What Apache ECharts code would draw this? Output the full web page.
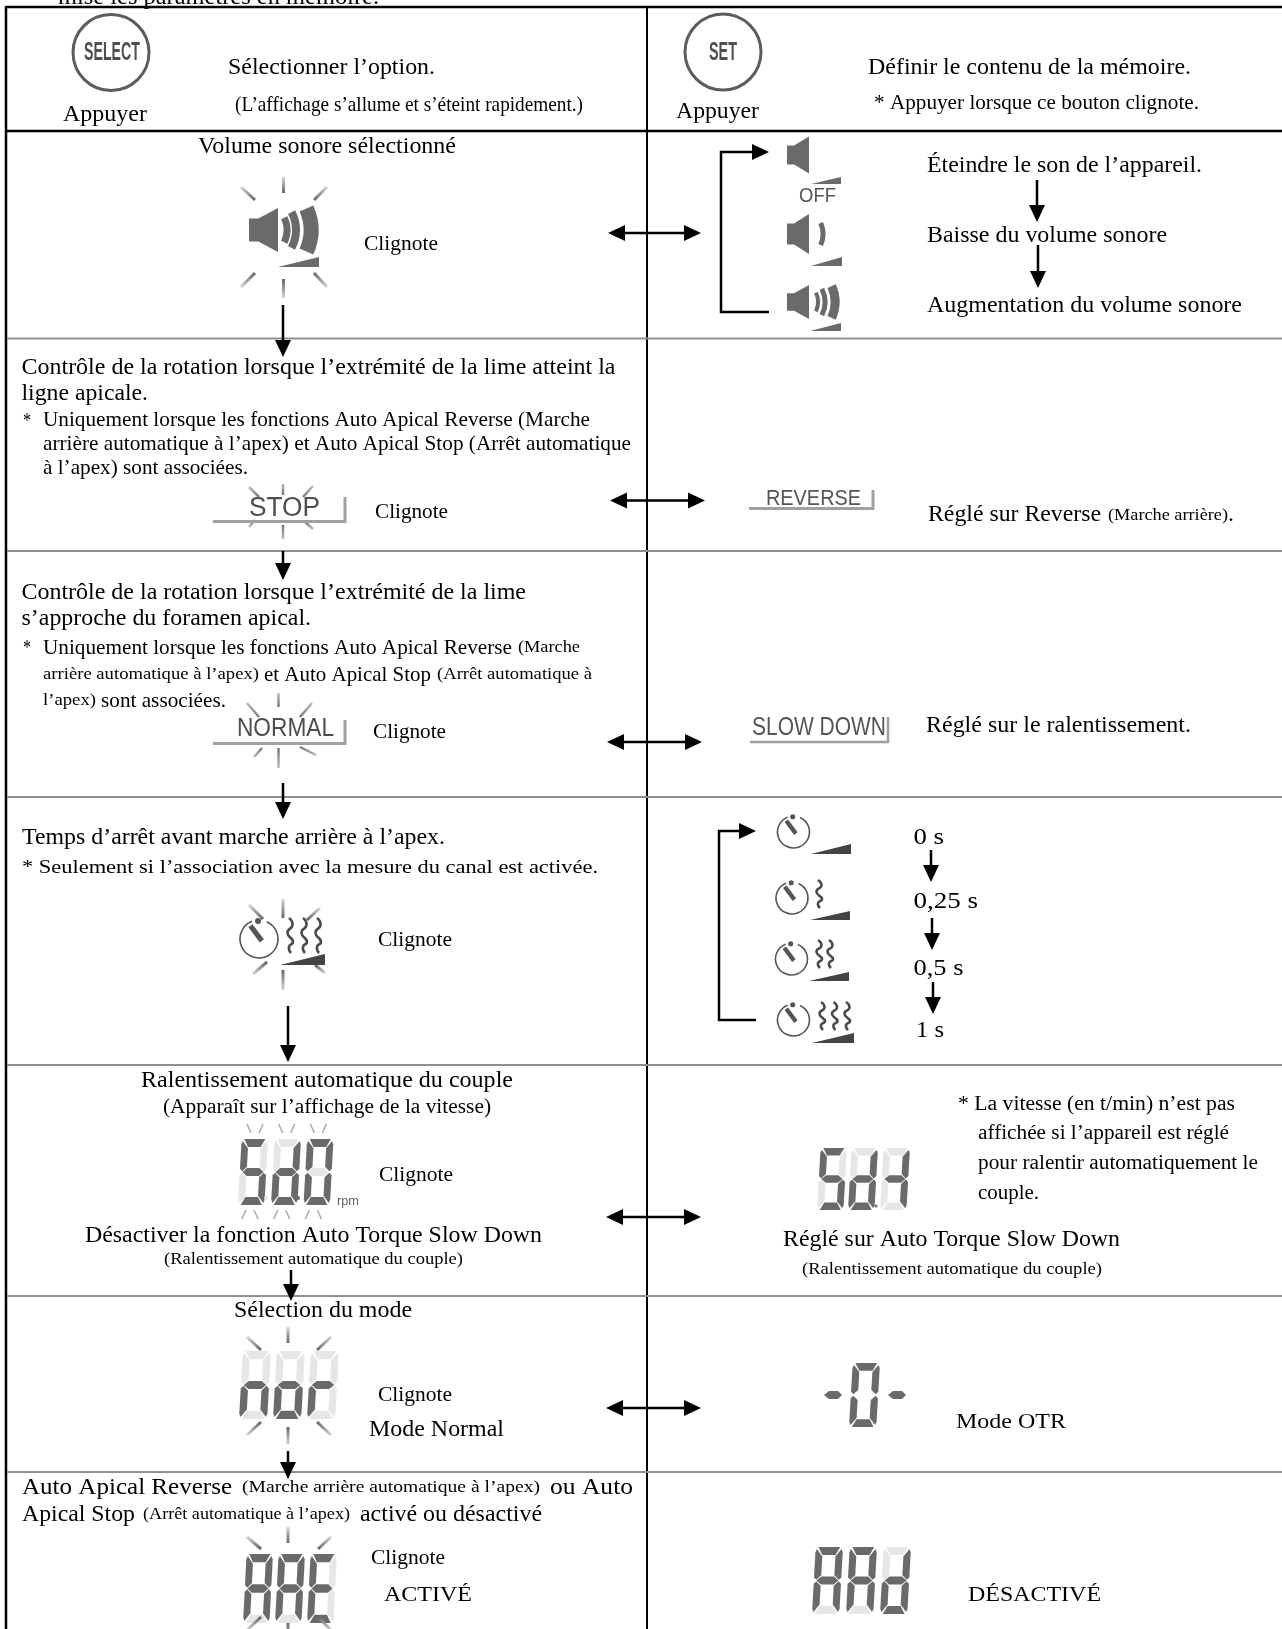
<!DOCTYPE html>
<html lang="fr">
<head>
  <meta charset="UTF-8">
  <title>Réglages mémoire</title>
  <style>
    * { box-sizing: border-box; padding: 0; margin: 0; }
    html, body { background: #fff; }
    #main { width: 1282px; height: 1629px; }
  </style>
  <script src="https://cdn.jsdelivr.net/npm/echarts@6/dist/echarts.min.js"></script>
</head>
<body>
  <div id="main"></div>
  <script>
    // libellés du tableau, dans l'ordre de haut en bas
    var labels = [
      'mise les paramètres en mémoire.',
      'Sélectionner l’option.',
      '(L’affichage s’allume et s’éteint rapidement.)',
      'Appuyer',
      'Appuyer',
      'Définir le contenu de la mémoire.',
      '* Appuyer lorsque ce bouton clignote.',
      'Volume sonore sélectionné',
      'Clignote',
      'Éteindre le son de l’appareil.',
      'Baisse du volume sonore',
      'Augmentation du volume sonore',
      'Contrôle de la rotation lorsque l’extrémité de la lime atteint la',
      'ligne apicale.',
      '*',
      'Uniquement lorsque les fonctions Auto Apical Reverse (Marche',
      'arrière automatique à l’apex) et Auto Apical Stop (Arrêt automatique',
      'à l’apex) sont associées.',
      'Clignote',
      'Réglé sur Reverse',
      '(Marche arrière)',
      '.',
      'Contrôle de la rotation lorsque l’extrémité de la lime',
      's’approche du foramen apical.',
      '*',
      'Uniquement lorsque les fonctions Auto Apical Reverse',
      '(Marche',
      'arrière automatique à l’apex)',
      'et Auto Apical Stop',
      '(Arrêt automatique à',
      'l’apex)',
      'sont associées.',
      'Clignote',
      'Réglé sur le ralentissement.',
      'Temps d’arrêt avant marche arrière à l’apex.',
      '* Seulement si l’association avec la mesure du canal est activée.',
      'Clignote',
      '0 s',
      '0,25 s',
      '0,5 s',
      '1 s',
      'Ralentissement automatique du couple',
      '(Apparaît sur l’affichage de la vitesse)',
      'Clignote',
      'Désactiver la fonction Auto Torque Slow Down',
      '(Ralentissement automatique du couple)',
      '* La vitesse (en t/min) n’est pas',
      'affichée si l’appareil est réglé',
      'pour ralentir automatiquement le',
      'couple.',
      'Réglé sur Auto Torque Slow Down',
      '(Ralentissement automatique du couple)',
      'Sélection du mode',
      'Clignote',
      'Mode Normal',
      'Mode OTR',
      'Auto Apical Reverse',
      '(Marche arrière automatique à l’apex)',
      'ou Auto',
      'Apical Stop',
      '(Arrêt automatique à l’apex)',
      'activé ou désactivé',
      'Clignote',
      'ACTIVÉ',
      'DÉSACTIVÉ'
    ];
    // textes de l'afficheur (police sans serif)
    var panelLabels = ['SELECT', 'SET', 'OFF', 'STOP', 'REVERSE', 'NORMAL', 'SLOW DOWN', 'rpm'];
    // segments allumés par chiffre de l'afficheur (a b c d e f g)
    var displays = {
      sd0: ['acdfg', 'bcdeg', 'abcdef'],
      sdt: ['acdfg', 'bcdeg', 'bcg'],
      nor: ['ceg', 'cdeg', 'eg'],
      aae: ['abcefg', 'abcefg', 'adefg'],
      aad: ['abcefg', 'abcefg', 'bcdeg'],
      otr: ['abcdef']
    };

    // [x gauche, x droite, y centre, taille] pour chaque libellé
    var labelBoxes = [
      [58, 379, -3.5, 24],
      [228, 435, 66.5, 24],
      [235, 583, 104, 21],
      [63, 147, 114, 24],
      [676, 759, 111, 24],
      [868, 1191, 66.5, 24],
      [874, 1199, 103, 20],
      [198, 456, 146, 24],
      [364, 438, 243, 21.5],
      [927, 1202, 165, 24],
      [927, 1167, 235, 24],
      [927, 1242, 305, 24],
      [21.5, 615.5, 367, 24],
      [21.5, 148, 393, 24],
      [23, 31, 421, 20],
      [43, 590, 419, 21],
      [43, 631, 443, 21],
      [43, 248, 467, 21],
      [375, 448, 511, 21.5],
      [928, 1101, 514, 23],
      [1108, 1228, 515, 16],
      [1228, 1234, 514, 23],
      [21.5, 526, 592, 24],
      [21.5, 311, 618, 24],
      [23, 31, 648, 20],
      [43, 512, 647, 21],
      [518, 580, 647, 17],
      [43, 259, 674, 17],
      [264, 431, 674, 21],
      [437, 592, 674, 17],
      [43, 96, 700, 17],
      [101, 226, 700, 21],
      [373, 446, 731, 21.5],
      [926, 1191, 725, 24],
      [22, 445, 837, 23],
      [22, 598, 867, 19],
      [378, 452, 939, 21.5],
      [913.5, 944, 837, 24],
      [913.5, 978, 901, 24],
      [913.5, 963.5, 968, 24],
      [916, 944, 1030, 24],
      [141, 513, 1079.5, 23],
      [163, 491, 1107, 20.5],
      [379, 453, 1174, 21.5],
      [85, 542, 1235, 23],
      [164, 463, 1258, 17.5],
      [958, 1235, 1104, 20],
      [978, 1229, 1133, 20],
      [978, 1258, 1163, 20],
      [978, 1039, 1193, 20],
      [783, 1120, 1239, 23],
      [802, 1102, 1268, 17.5],
      [234, 412, 1310, 23],
      [378, 452, 1394, 21.5],
      [369, 504, 1428.5, 23],
      [956, 1066, 1421, 22],
      [22, 232, 1487, 23],
      [242, 540, 1487, 17],
      [550, 633, 1487, 23],
      [22, 135, 1514, 23],
      [143, 350, 1514, 17],
      [360, 542, 1514, 23],
      [371, 445, 1557, 21.5],
      [384, 472, 1595, 20],
      [968, 1101, 1594, 21]
    ];
    var panelBoxes = [
      [84, 140, 53, 26, 'bold', '#505050'],
      [709, 737, 53, 26, 'bold', '#505050'],
      [799, 836, 196, 21, 'normal', '#555'],
      [249, 320, 509, 27, 'normal', '#4d4d4d'],
      [766, 861, 499, 22, 'normal', '#555'],
      [237, 334, 729, 26, 'normal', '#4d4d4d'],
      [752, 886, 728, 26, 'normal', '#555'],
      [337, 359, 1202, 12, 'normal', '#666']
    ];

    var els = [];
    var measure = document.createElement('canvas').getContext('2d');
    var BLACK = '#000', GRID = '#8f8f8f', ICON = '#6a6a6a', SEG_OFF = '#e6e6e6';

    function line(x1, y1, x2, y2, color, width) {
      els.push({
        type: 'line', silent: true,
        shape: { x1: x1, y1: y1, x2: x2, y2: y2 },
        style: { stroke: color, lineWidth: width }
      });
    }
    function poly(points, color) {
      els.push({ type: 'polygon', silent: true, shape: { points: points }, style: { fill: color } });
    }
    // texte étiré pour tenir exactement entre x0 et x1
    function text(str, box, family, weight, color, dy) {
      var font = (weight || 'normal') + ' ' + box[3] + 'px ' + family;
      measure.font = font;
      els.push({
        type: 'text', silent: true,
        x: box[0], y: box[2] + (dy || 0), scaleX: (box[1] - box[0]) / measure.measureText(str).width,
        style: {
          text: str, x: 0, y: 0, fill: color || BLACK, fontSize: box[3], fontFamily: family,
          fontWeight: weight || 'normal', align: 'left', verticalAlign: 'middle'
        }
      });
    }
    function head(x, y, dx, dy) {
      // pointe de flèche, (x, y) est l'extrémité
      var len = 17, half = 8;
      poly([[x, y], [x - dx * len - dy * half, y - dy * len - dx * half], [x - dx * len + dy * half, y - dy * len + dx * half]], BLACK);
    }
    function down(x, y1, y2) {
      line(x, y1, x, y2 - 8, BLACK, 2.5);
      head(x, y2, 0, 1);
    }
    function both(x1, x2, y) {
      line(x1 + 8, y, x2 - 8, y, BLACK, 2.5);
      head(x1, y, -1, 0);
      head(x2, y, 1, 0);
    }
    function bracket(x, y1, y2, xEnd) {
      els.push({
        type: 'polyline', silent: true,
        shape: { points: [[xEnd - 10, y1], [x, y1], [x, y2], [xEnd, y2]] },
        style: { stroke: BLACK, lineWidth: 2.5, fill: null }
      });
      head(xEnd, y1, 1, 0);
    }
    // rayons de clignotement : foncés côté icône, estompés vers l'extérieur
    function rays(list, inner, outer, width) {
      var cx = 0, cy = 0;
      list.forEach(function (r) { cx += (r[0] + r[2]) / 2; cy += (r[1] + r[3]) / 2; });
      cx /= list.length;
      cy /= list.length;
      list.forEach(function (r) {
        var d1 = Math.hypot(r[0] - cx, r[1] - cy), d2 = Math.hypot(r[2] - cx, r[3] - cy);
        var near = d1 < d2 ? [r[0], r[1]] : [r[2], r[3]];
        var far = d1 < d2 ? [r[2], r[3]] : [r[0], r[1]];
        line(r[0], r[1], r[2], r[3], {
          type: 'linear', global: true, x: near[0], y: near[1], x2: far[0], y2: far[1],
          colorStops: [{ offset: 0, color: inner || '#666' }, { offset: 1, color: outer || '#d4d4d4' }]
        }, width || 3);
      });
    }
    function wedge(x0, x1, y0, y1, color) {
      poly([[x0, y1], [x1, y1], [x1, y0]], color || ICON);
    }
    function arc(cx, cy, r, half, width, color) {
      els.push({
        type: 'arc', silent: true,
        shape: { cx: cx, cy: cy, r: r, startAngle: -half * Math.PI / 180, endAngle: half * Math.PI / 180 },
        style: { stroke: color || ICON, lineWidth: width, fill: null, lineCap: 'butt' }
      });
    }
    function speaker(x, cy, w, h) {
      poly([[x, cy - h * 0.26], [x + w * 0.32, cy - h * 0.26], [x + w, cy - h / 2], [x + w, cy + h / 2],
        [x + w * 0.32, cy + h * 0.26], [x, cy + h * 0.26]], ICON);
    }
    function timer(cx, cy, r, color) {
      color = color || '#555';
      els.push({
        type: 'arc', silent: true,
        shape: { cx: cx, cy: cy, r: r, startAngle: -1.15, endAngle: -1.95, clockwise: true },
        style: { stroke: color, lineWidth: 1.6, fill: null }
      });
      els.push({ type: 'circle', silent: true, shape: { cx: cx - r * 0.05, cy: cy - r * 0.95, r: r * 0.16 }, style: { fill: color } });
      line(cx - r * 0.45, cy - r * 0.7, cx + r * 0.15, cy + r * 0.1, color, r * 0.27);
    }
    function squiggle(x, y0, y1) {
      var h = y1 - y0;
      els.push({
        type: 'polyline', silent: true,
        shape: {
          smooth: 0.6,
          points: [[x - 1, y0], [x + 2.5, y0 + h * 0.2], [x - 2.5, y0 + h * 0.42], [x + 3, y0 + h * 0.68], [x - 1, y0 + h * 0.82], [x + 1, y1]]
        },
        style: { stroke: '#4a4a4a', lineWidth: 2.6, fill: null }
      });
    }
    // unité : segments d'un chiffre, u en largeur, v en hauteur
    var SEGS = {
      a: [[.1, 0], [.9, 0], [.74, .12], [.26, .12]],
      b: [[.95, .03], [1, .08], [1, .45], [.91, .49], [.74, .42], [.74, .14]],
      c: [[.95, .97], [1, .92], [1, .55], [.91, .51], [.74, .58], [.74, .86]],
      d: [[.1, 1], [.9, 1], [.74, .88], [.26, .88]],
      e: [[.05, .97], [0, .92], [0, .55], [.09, .51], [.26, .58], [.26, .86]],
      f: [[.05, .03], [0, .08], [0, .45], [.09, .49], [.26, .42], [.26, .14]],
      g: [[.1, .5], [.27, .44], [.73, .44], [.9, .5], [.73, .56], [.27, .56]]
    };
    function digit(x, y, w, h, on, showOff) {
      var s = 0.12;
      'abcdefg'.split('').forEach(function (k) {
        var lit = on.indexOf(k) >= 0;
        if (!lit && !showOff) return;
        poly(SEGS[k].map(function (p) {
          return [x + w * (p[0] * (1 - s) + s * (1 - p[1])), y + h * p[1]];
        }), lit ? ICON : SEG_OFF);
      });
    }
    function display(states, xs, y, w, h) {
      states.forEach(function (on, i) { digit(xs[i], y, w, h, on, true); });
    }

    // textes
    labels.forEach(function (str, i) { text(str, labelBoxes[i], '"Liberation Serif"', null, null, 1); });

    // cadre du tableau
    line(6, 7, 1282, 7, BLACK, 2.5);
    line(6, 131, 1282, 131, BLACK, 2.5);
    line(6, 6, 6, 1629, BLACK, 2.5);
    line(647, 6, 647, 1629, BLACK, 2);
    [338.5, 551, 797, 1065, 1296, 1472].forEach(function (y) { line(7, y, 1282, y, GRID, 2); });

    // boutons
    [[111, 52.5], [723, 52]].forEach(function (c) {
      els.push({ type: 'circle', silent: true, shape: { cx: c[0], cy: c[1], r: 38 }, style: { fill: null, stroke: '#5c5c5c', lineWidth: 3 } });
    });

    // volume : icône clignotante
    speaker(249, 230, 29, 44);
    arc(258, 230, 29, 25, 7);
    arc(258, 230, 38, 28, 8);
    arc(258, 230, 53, 24, 15);
    wedge(278, 319, 257, 267);
    rays([[283.5, 177, 283.5, 193], [241, 187, 255, 200], [327, 187, 314, 200], [283.5, 279, 283.5, 298],
      [241, 287, 255, 273], [327, 287, 314, 273]]);
    // volume : colonne de droite
    speaker(787, 155, 22, 37);
    wedge(811, 841, 177, 184);
    speaker(787, 234, 22, 40);
    arc(796, 234, 27, 24, 5);
    wedge(811, 842, 257, 266);
    speaker(787, 302, 22, 34);
    arc(796, 302, 22, 25, 4);
    arc(796, 302, 29, 27, 5);
    arc(796, 302, 39, 24, 9);
    wedge(810, 841, 323, 331);
    bracket(721, 152, 312, 769);
    down(1037, 180, 222);
    down(1038, 245, 288);
    both(608, 701, 233);

    // STOP / REVERSE
    rays([[283, 484, 283, 495], [249, 487, 259, 497], [313, 486, 303, 497], [283, 525, 283, 539],
      [249, 527, 255, 520], [313, 529, 305, 522]], '#777', '#bbb', 2.5);
    line(213, 521.5, 345, 521.5, '#a0a0a0', 3);
    line(345, 497, 345, 523, '#a0a0a0', 3);
    line(749, 508.5, 873, 508.5, '#a0a0a0', 3);
    line(873, 490, 873, 510, '#a0a0a0', 3);
    down(283, 305, 357);
    both(610, 705, 500.5);

    // NORMAL / SLOW DOWN
    rays([[278.5, 693, 278.5, 707], [247, 703, 259, 717], [312, 703, 300, 717], [278.5, 748, 278.5, 768],
      [254, 757, 262, 748], [316, 755, 300, 747]], '#777', '#bbb', 2.5);
    line(213, 743.5, 345, 743.5, '#a0a0a0', 3);
    line(345, 720, 345, 745, '#a0a0a0', 3);
    line(750, 742, 888, 742, '#a0a0a0', 2.5);
    line(888, 717, 888, 743, '#a0a0a0', 2.5);
    down(283, 551, 580);
    both(607, 702, 742);

    // temporisation
    down(283, 783, 819);
    rays([[283, 899, 283, 918], [249, 905, 263, 919], [320, 908, 307, 920], [283, 970, 283, 990],
      [253, 974, 267, 962], [325, 973, 315, 965]]);
    timer(259, 939, 19);
    [290, 304, 318].forEach(function (x) { squiggle(x, 918, 953); });
    wedge(280, 325, 954, 965, '#444');
    timer(793.5, 832, 16);
    wedge(811, 851, 844, 854, '#444');
    timer(792, 898, 16);
    squiggle(819, 880, 908);
    wedge(810, 850, 911, 920, '#444');
    timer(791.5, 959, 16);
    [819, 830].forEach(function (x) { squiggle(x, 940, 968); });
    wedge(809, 849, 972, 981, '#444');
    timer(793.5, 1020, 16);
    [822, 834.5, 847].forEach(function (x) { squiggle(x, 1002, 1030); });
    wedge(812, 854, 1033, 1043, '#444');
    bracket(719, 831, 1020, 756);
    down(931, 850, 882);
    down(932, 918, 950);
    down(933, 982, 1014);
    down(288, 1006, 1062);

    // Sd.0 / Sd.t
    display(displays.sd0, [238, 271, 303.5], 1139, 30, 66);
    [0, 1, 2].forEach(function (i) {
      var o = i * 31.7;
      [[247 + o, 1124, 251 + o, 1133], [263 + o, 1124, 259 + o, 1133], [242 + o, 1219, 246 + o, 1210], [258 + o, 1219, 254 + o, 1210]].forEach(function (r) {
        line(r[0], r[1], r[2], r[3], '#aaa', 1.5);
      });
    });
    els.push({ type: 'circle', silent: true, shape: { cx: 266, cy: 1198, r: 2 }, style: { fill: SEG_OFF } });
    els.push({ type: 'circle', silent: true, shape: { cx: 298, cy: 1198, r: 2 }, style: { fill: ICON } });
    display(displays.sdt, [817, 848, 880], 1148, 30, 62);
    els.push({ type: 'circle', silent: true, shape: { cx: 876, cy: 1206, r: 1.5 }, style: { fill: ICON } });
    down(291, 1270, 1301);
    both(606, 701, 1217);

    // noR / -0-
    display(displays.nor, [239, 273, 307], 1351, 32, 68);
    rays([[288, 1327, 288, 1343], [247, 1337, 261, 1350], [331, 1337, 317, 1350], [288, 1427, 288, 1444],
      [247, 1435, 261, 1422], [331, 1435, 317, 1422]]);
    digit(849, 1363, 31, 64, displays.otr[0], false);
    poly([[824, 1395], [829, 1391], [838, 1391], [842, 1395], [838, 1399], [829, 1399]], ICON);
    poly([[888, 1395], [893, 1391], [902, 1391], [906, 1395], [902, 1399], [893, 1399]], ICON);
    down(288, 1451, 1479);
    both(606, 701, 1408);

    // AAE / AAd
    display(displays.aae, [243, 275, 307], 1554, 30, 69);
    rays([[288, 1527, 288, 1543], [247, 1537, 261, 1549], [331, 1537, 318, 1549], [288, 1623, 288, 1640],
      [247, 1630, 261, 1617], [331, 1630, 318, 1617]]);
    display(displays.aad, [812, 846, 880], 1547, 31, 67);

    // textes de l'afficheur, par-dessus les rayons
    panelLabels.forEach(function (str, i) {
      var b = panelBoxes[i];
      text(str, b, '"Liberation Sans"', b[4], b[5]);
    });

    var myChart = echarts.init(document.getElementById('main'));
    myChart.setOption({
      animation: false,
      backgroundColor: '#fff',
      graphic: { elements: els }
    });
  </script>
</body>
</html>
